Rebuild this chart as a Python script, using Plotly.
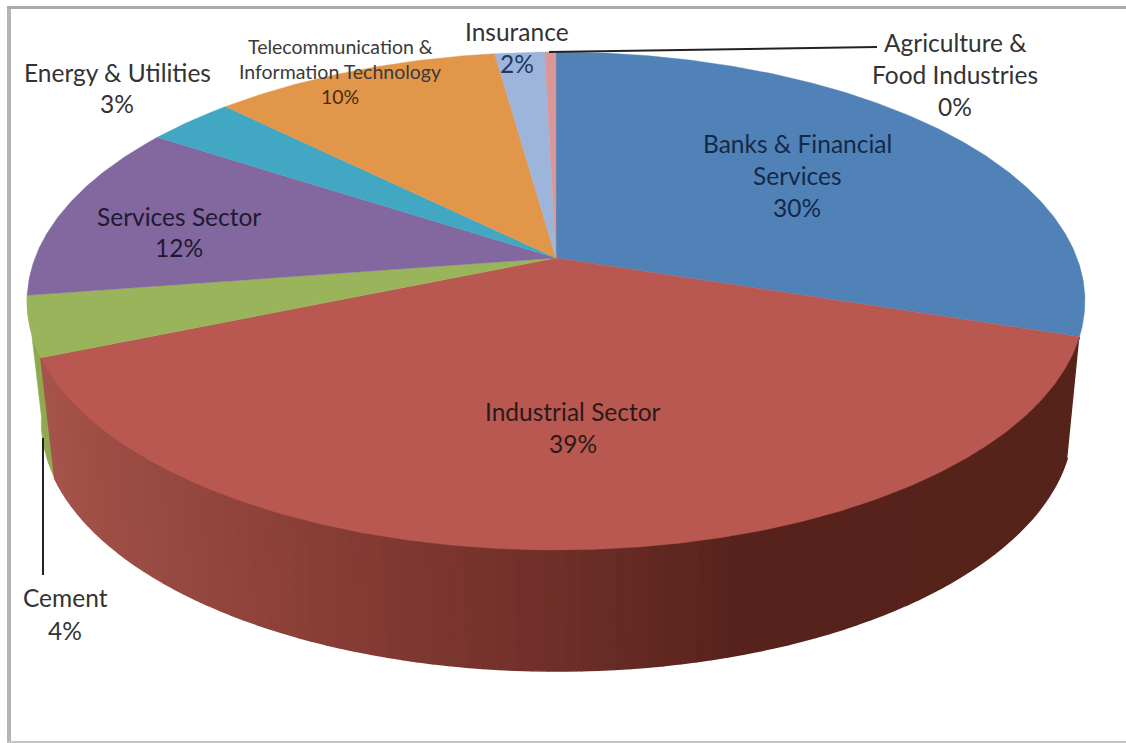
import numpy as np
import plotly.graph_objects as go

# ---- data ----
sectors = ["Banks & Financial Services", "Industrial Sector", "Cement", "Services Sector",
           "Energy & Utilities", "Telecommunication & Information Technology", "Insurance",
           "Agriculture & Food Industries"]
shares = [30.0, 38.7, 3.9, 11.6, 3.2, 10.4, 1.8, 0.4]
colors = ["#5082B8", "#B85851", "#99B45A", "#83679F", "#41A7C2", "#E2964A", "#9DB5DB", "#D9979A"]
label_lines = [["Banks & Financial", "Services"], ["Industrial Sector"], ["Cement"], ["Services Sector"],
               ["Energy & Utilities"], ["Telecommunication &", "Information Technology"], ["Insurance"],
               ["Agriculture &", "Food Industries"]]

# ---- pie geometry (perspective projection of a circle) ----
CX, CY, A, B, K = 556.0, 258.0, 521.0, 241.6, 0.1727
DEPTH, BOT_SCALE, BOT_CX = 121.0, 0.975, 557.0

def rim(deg):
    t = np.radians(deg)
    X, Y = np.sin(t), np.cos(t)
    d = 1 + K * Y
    return CX + A * X / d, CY - B * Y / d

def rim_bottom(deg):
    t = np.radians(deg)
    X, Y = np.sin(t), np.cos(t)
    d = 1 + K * Y
    return BOT_CX + A * BOT_SCALE * X / d, CY + DEPTH - B * Y / d

ends = np.cumsum(shares) / np.sum(shares) * 360
starts = np.r_[0, ends[:-1]]

SHADE_X = [40, 100, 300, 550, 750, 1090]
SHADE_R = [168, 160, 139, 111, 86, 87]
SHADE_G = [86, 79, 64, 48, 34, 36]
SHADE_B = [78, 71, 56, 41, 27, 28]

fig = go.Figure()

def poly(xs, ys, color, width=0.6):
    fig.add_trace(go.Scatter(x=list(xs), y=list(ys), mode="lines", fill="toself", fillcolor=color,
                             line=dict(color=color, width=width), hoverinfo="skip", showlegend=False))

# side wall: green part
th = np.linspace(starts[2], ends[2], 30)
px, py = rim(th)
qx, qy = rim_bottom(th)
poly(np.r_[px, qx[::-1]], np.r_[py, qy[::-1]], "#8FA94F")

# side wall: red part with horizontal shading
edges = np.linspace(starts[1], ends[1], 91)
for a0, a1 in zip(edges[:-1], edges[1:]):
    p0, p1 = rim(a0), rim(a1)
    q0, q1 = rim_bottom(a0), rim_bottom(a1)
    xm = (q0[0] + q1[0]) / 2
    c = "rgb(%d,%d,%d)" % (np.interp(xm, SHADE_X, SHADE_R), np.interp(xm, SHADE_X, SHADE_G), np.interp(xm, SHADE_X, SHADE_B))
    poly([p0[0], p1[0], q1[0], q0[0]], [p0[1], p1[1], q1[1], q0[1]], c, width=1.6)

# top face
for s, e, c in zip(starts, ends, colors):
    th = np.linspace(s, e, max(3, int((e - s) * 2)))
    ax_, ay_ = rim(th)
    poly(np.r_[CX, ax_, CX], np.r_[CY, ay_, CY], c, width=0.4)

# labels: (x centre, first line y, line step, size, colour) per sector
pct = [f"{round(v)}%" for v in shares]
label_pos = [(797, 143, 32, 24.5, "#14294A"), (573, 411, 32, 24.5, "#2B1A1A"), (65, 597, 33, 24.5, "#333333"),
             (179, 216, 31, 24.5, "#1F1A33"), (117, 72, 31, 24.5, "#333333"), (340, 46, 25, 19.5, "#3A3A3A"),
             (517, 31, 32, 24.5, "#333333"), (955, 42, 32, 24.5, "#333333")]
annotations = []
for lines, p, (x, y, step, size, col) in zip(label_lines, pct, label_pos):
    for i, t in enumerate(lines + [p]):
        c = col
        if t == "2%":
            c = "#1F3864"
        if t == "10%":
            c = "#4A2A10"
        annotations.append(dict(x=x, y=y + i * step, text=t, showarrow=False, xanchor="center", yanchor="middle",
                                font=dict(family="Lato", size=size, color=c)))

# leader lines
fig.add_trace(go.Scatter(x=[549, 877], y=[52, 47], mode="lines", line=dict(color="#222222", width=2),
                         hoverinfo="skip", showlegend=False))
fig.add_trace(go.Scatter(x=[43, 43], y=[438, 575], mode="lines", line=dict(color="#222222", width=2),
                         hoverinfo="skip", showlegend=False))

frame = "#ABABAB"
shapes = [dict(type="rect", x0=7, x1=11, y0=7, y1=743, fillcolor="#B5B5B5", line_width=0, layer="below"),
          dict(type="rect", x0=7, x1=1126, y0=6, y1=9, fillcolor=frame, line_width=0, layer="below"),
          dict(type="rect", x0=7, x1=1126, y0=741, y1=743, fillcolor="#C4C4C4", line_width=0, layer="below")]

fig.update_layout(width=1126, height=743, margin=dict(l=0, r=0, t=0, b=0), paper_bgcolor="white",
                  plot_bgcolor="white", showlegend=False, annotations=annotations, shapes=shapes,
                  xaxis=dict(range=[0, 1126], visible=False, fixedrange=True),
                  yaxis=dict(range=[743, 0], visible=False, fixedrange=True))
fig.write_html("out.html", post_script="document.body.style.margin='0';", config={"displayModeBar": False})
